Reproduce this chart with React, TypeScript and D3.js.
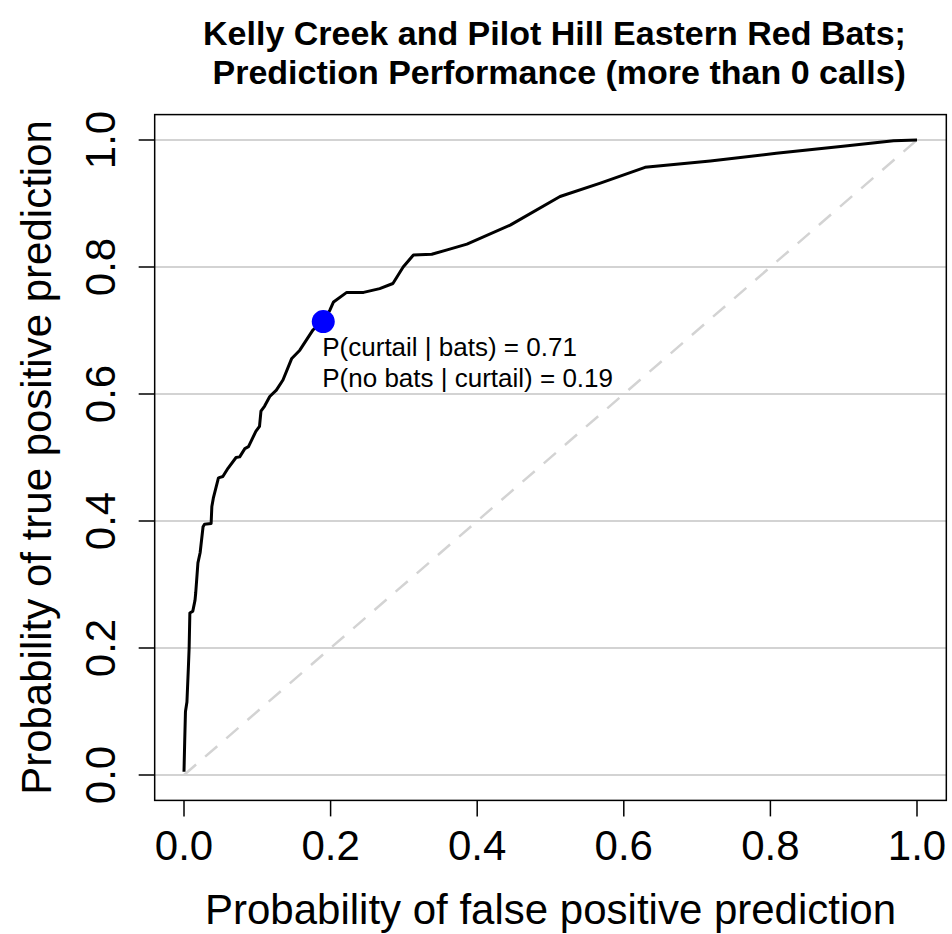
import React from "react";
import * as d3 from "d3";

const titleLines = [
  "Kelly Creek and Pilot Hill Eastern Red Bats;",
  " Prediction Performance (more than 0 calls)",
];
const xLabel = "Probability of false positive prediction";
const yLabel = "Probability of true positive prediction";

const fpr = [
  0.0, 0.001, 0.002, 0.004, 0.006, 0.007, 0.008, 0.012, 0.015, 0.016, 0.019, 0.022,
  0.026, 0.028, 0.037, 0.038, 0.04, 0.047, 0.053, 0.06, 0.071, 0.076, 0.083, 0.088,
  0.098, 0.103, 0.105, 0.11, 0.117, 0.126, 0.135, 0.147, 0.158, 0.176, 0.19, 0.199,
  0.204, 0.222, 0.245, 0.267, 0.285, 0.299, 0.313, 0.338, 0.359, 0.386, 0.445, 0.513,
  0.568, 0.629, 0.718, 0.808, 0.899, 0.968, 1.0,
];
const tpr = [
  0.005, 0.055, 0.1, 0.115, 0.17, 0.2, 0.255, 0.258, 0.275, 0.287, 0.334, 0.35,
  0.391, 0.395, 0.396, 0.423, 0.436, 0.468, 0.47, 0.483, 0.5, 0.501, 0.514, 0.517,
  0.541, 0.549, 0.573, 0.581, 0.596, 0.606, 0.622, 0.656, 0.669, 0.701, 0.714, 0.732,
  0.745, 0.76, 0.76, 0.766, 0.774, 0.8, 0.819, 0.82, 0.827, 0.836, 0.866, 0.911,
  0.932, 0.957, 0.967, 0.979, 0.99, 0.999, 1.0,
];
const ticks = [0, 0.2, 0.4, 0.6, 0.8, 1.0];
const tickLabels = ["0.0", "0.2", "0.4", "0.6", "0.8", "1.0"];
const pointFpr = 0.19;
const pointTpr = 0.714;
const annotation = ["P(curtail | bats) = 0.71", "P(no bats | curtail) = 0.19"];

const W = 952;
const H = 934;
const FONT = "'Liberation Sans', Arial, sans-serif";

export default function App() {
  const x = d3.scaleLinear().domain([0, 1]).range([184, 917]);
  const y = d3.scaleLinear().domain([0, 1]).range([775, 140]);
  const x0 = x(-0.04);
  const x1 = x(1.04);
  const yTop = y(1.04);
  const yBot = y(-0.04);

  const pts = fpr.map((f, i) => [f, tpr[i]] as [number, number]);
  const line = d3
    .line<[number, number]>()
    .x((d) => x(d[0]))
    .y((d) => y(d[1]));

  const cx = (x0 + x1) / 2;

  return (
    <svg
      width={W}
      height={H}
      style={{ position: "absolute", left: 0, top: 0, background: "#fff" }}
      fontFamily={FONT}
    >
      <rect x={0} y={0} width={W} height={H} fill="#fff" />
      {/* title */}
      <text x={cx + 4} y={45} textAnchor="middle" fontSize={34} fontWeight="bold" fill="#000">
        {titleLines[0]}
      </text>
      <text
        x={cx + 4}
        y={84}
        textAnchor="middle"
        fontSize={34}
        fontWeight="bold"
        fill="#000"
        style={{ whiteSpace: "pre" }}
      >
        {titleLines[1]}
      </text>

      {/* gridlines */}
      {ticks.map((t) => (
        <line
          key={"g" + t}
          x1={x0}
          x2={x1}
          y1={y(t)}
          y2={y(t)}
          stroke="#d3d3d3"
          strokeWidth={2}
        />
      ))}

      {/* diagonal reference */}
      <line
        x1={x(0)}
        y1={y(0)}
        x2={x(1)}
        y2={y(1)}
        stroke="#d3d3d3"
        strokeWidth={2.5}
        strokeDasharray="16,12"
      />

      {/* ROC curve */}
      <path d={line(pts) || ""} fill="none" stroke="#000" strokeWidth={3} strokeLinejoin="round" />

      {/* point */}
      <circle cx={x(pointFpr)} cy={y(pointTpr)} r={11.5} fill="#0000ff" />
      {annotation.map((s, i) => (
        <text
          key={s}
          x={x(pointFpr) - 1}
          y={y(pointTpr) + 34 + i * 31}
          fontSize={26}
          fill="#000"
        >
          {s}
        </text>
      ))}

      {/* box */}
      <rect
        x={x0}
        y={yTop}
        width={x1 - x0}
        height={yBot - yTop}
        fill="none"
        stroke="#000"
        strokeWidth={1.5}
      />

      {/* x axis */}
      {ticks.map((t, i) => (
        <g key={"x" + t}>
          <line x1={x(t)} x2={x(t)} y1={yBot} y2={yBot + 16} stroke="#000" strokeWidth={1.5} />
          <text x={x(t)} y={860} textAnchor="middle" fontSize={42} fill="#000">
            {tickLabels[i]}
          </text>
        </g>
      ))}
      <text x={cx} y={924} textAnchor="middle" fontSize={42} fill="#000">
        {xLabel}
      </text>

      {/* y axis */}
      {ticks.map((t, i) => (
        <g key={"y" + t}>
          <line x1={x0} x2={x0 - 16} y1={y(t)} y2={y(t)} stroke="#000" strokeWidth={1.5} />
          <text
            transform={`translate(115,${y(t)}) rotate(-90)`}
            textAnchor="middle"
            fontSize={42}
            fill="#000"
          >
            {tickLabels[i]}
          </text>
        </g>
      ))}
      <text
        transform={`translate(51,${(yTop + yBot) / 2}) rotate(-90)`}
        textAnchor="middle"
        fontSize={42}
        fill="#000"
      >
        {yLabel}
      </text>
    </svg>
  );
}
